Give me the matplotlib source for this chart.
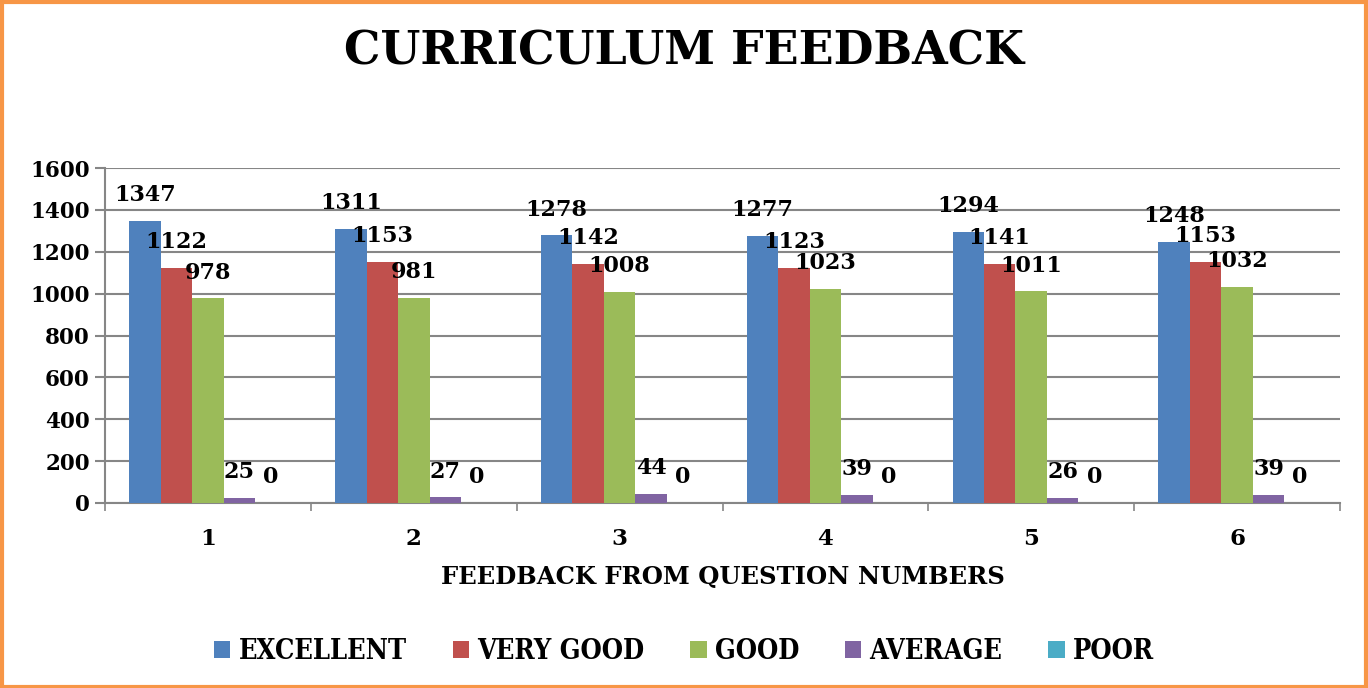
import matplotlib.pyplot as plt
import numpy as np
from matplotlib.patches import Rectangle

questions = ['1', '2', '3', '4', '5', '6']
series_names = ['EXCELLENT', 'VERY GOOD', 'GOOD', 'AVERAGE', 'POOR']
excellent = [1347, 1311, 1278, 1277, 1294, 1248]
very_good = [1122, 1153, 1142, 1123, 1141, 1153]
good = [978, 981, 1008, 1023, 1011, 1032]
average = [25, 27, 44, 39, 26, 39]
poor = [0, 0, 0, 0, 0, 0]
colors = ['#4F81BD', '#C0504D', '#9BBB59', '#8064A2', '#4BACC6']

plt.rcParams['font.family'] = ['DejaVu Serif']
plt.rcParams['font.weight'] = 'bold'

fig = plt.figure(figsize=(13.68, 6.88), dpi=100)
ax = fig.add_axes([0.0768, 0.2689, 0.9027, 0.4869])

x = np.arange(len(questions))
width = 0.153
all_series = [excellent, very_good, good, average, poor]
for i, vals in enumerate(all_series):
    pos = x + (i - 2) * width
    ax.bar(pos, vals, width, color=colors[i], label=series_names[i], zorder=3)
    for px, v in zip(pos, vals):
        ax.annotate(str(v), (px, v), xytext=(0, 18.5), textcoords='offset points',
                    ha='center', va='center', fontsize=16, fontweight='bold', zorder=4)

ax.set_xlim(-0.5, len(questions) - 0.5)
ax.set_ylim(0, 1600)
ax.set_yticks(range(0, 1601, 200))
ax.yaxis.grid(True, color='#868686', linewidth=1.5, zorder=0)
ax.set_xticks(x)
ax.set_xticklabels(questions)
ax.set_xticks(np.arange(-0.5, len(questions)), minor=True)
ax.tick_params(axis='x', which='major', length=0, pad=18, labelsize=16.5)
ax.tick_params(axis='x', which='minor', length=6, color='#868686', width=1.2)
ax.tick_params(axis='y', length=7, color='#868686', width=1.5, pad=4, labelsize=15.5)
for s in ['top', 'right']:
    ax.spines[s].set_visible(False)
for s in ['left', 'bottom']:
    ax.spines[s].set_color('#868686')
    ax.spines[s].set_linewidth(1.5)

ax.set_xlabel('FEEDBACK FROM QUESTION NUMBERS', fontsize=17.5, fontweight='bold', labelpad=11)
fig.text(0.5, 0.925, 'CURRICULUM FEEDBACK', ha='center', va='center', fontsize=33, fontweight='bold')

leg = fig.legend(loc='center', bbox_to_anchor=(0.5, 0.053), ncol=5, frameon=False,
                 prop={'family': 'DejaVu Serif', 'weight': 'bold', 'size': 19.5, 'stretch': 'condensed'},
                 handlelength=0.6, handleheight=0.6, handletextpad=0.3, columnspacing=1.7)

fig.patches.append(Rectangle((0.0015, 0.002), 0.997, 0.995, transform=fig.transFigure,
                             fill=False, edgecolor='#F79646', linewidth=3))

fig.savefig('out.png', dpi=100)
